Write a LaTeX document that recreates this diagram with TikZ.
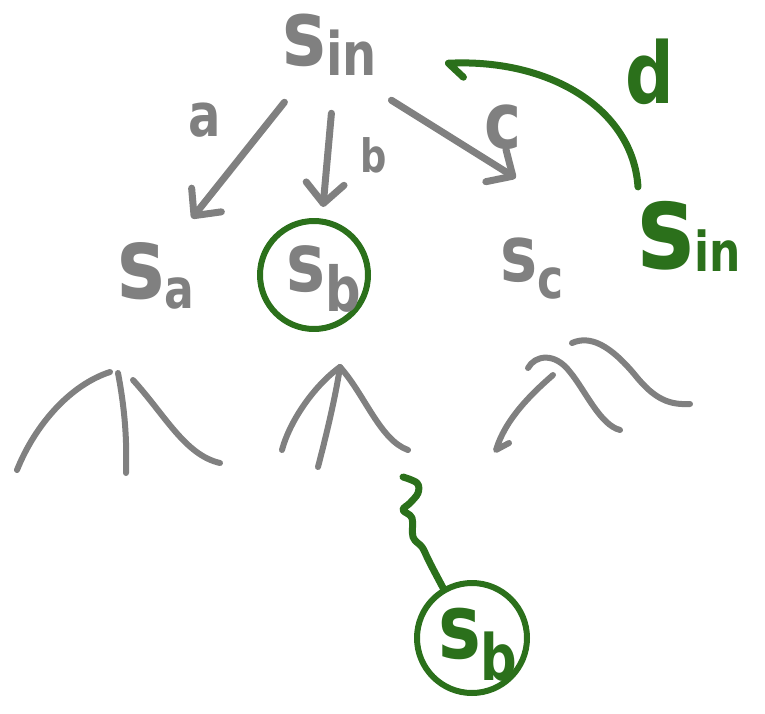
\documentclass[tikz,border=0pt]{standalone}
\usepackage{fontspec}
\newfontfamily\hand[FakeStretch=0.8]{DejaVu Sans}
\usetikzlibrary{arrows.meta,calc}
\definecolor{pen}{RGB}{128,128,128}
\definecolor{ink}{RGB}{43,112,27}
\newcommand\slab[5]{{\fontsize{#1}{#1}\selectfont #2}\raisebox{-#4}{\fontsize{#3}{#3}\selectfont #5}}
\tikzset{
  gtext/.style={text=pen, inner sep=0pt, font=\hand\bfseries},
  ktext/.style={text=ink, inner sep=0pt, font=\hand\bfseries},
  ring/.style={circle, draw=ink, line width=6pt, inner sep=0pt, minimum size=#1},
  arr/.style={draw=pen, line width=7pt, -{Straight Barb[round, length=20pt, width=38pt]}},
  greenline/.style={draw=ink, line width=7pt},
  tree/.style={draw=pen, line width=6pt}
}
\begin{document}
\begin{tikzpicture}[x=1pt, y=-1pt, line cap=round, line join=round]
\useasboundingbox (0,0) rectangle (765,714);
% state nodes
\node[gtext, anchor=base west, inner sep=2pt] (sin) at (280,66) {\slab{92}{s}{60}{10pt}{in}};
\node[gtext, anchor=base west] (sa) at (117,298) {\slab{100}{s}{55}{10pt}{a}};
\node[gtext, anchor=base west] (sc) at (500,281) {\slab{78}{s}{55}{17pt}{c}};
\node[ktext, anchor=base west] (gsin) at (637,268) {\slab{120}{s}{55}{3pt}{in}};
\node[ring=108pt, text=pen, font=\hand\bfseries] (sb) at (314,275)
  {\makebox[0pt][l]{\hspace{-28pt}\raisebox{-16pt}[0pt][0pt]{\slab{82}{s}{62}{20pt}{b}}}};
\node[ring=110pt, text=ink, font=\hand\bfseries] (sb2) at (472,638)
  {\makebox[0pt][l]{\hspace{-34pt}\raisebox{-20pt}[0pt][0pt]{\slab{90}{s}{64}{22pt}{b}}}};
% action arrows
\draw[arr] ($(sin.center)+(-45,57)$) -- ($(sa.center)+(36,-57)$);
\draw[arr] ($(sin.center)+(2,68)$) -- ($(sb.center)+(9,-68)$);
\draw[arr] ($(sin.center)+(62,55)$) -- ($(sc.center)+(-16,-90)$);
\node[gtext, font=\hand\bfseries\fontsize{60}{60}\selectfont] (la) at (205,120) {a};
\node[gtext, font=\hand\bfseries\fontsize{46}{46}\selectfont] (lb) at (374,155) {b};
\node[gtext, font=\hand\bfseries\fontsize{78}{78}\selectfont] (lc) at (503,127) {c};
% green d arc
\draw[greenline] ($(gsin.center)+(-51,-49)$) .. controls +(-5,-77) and +(103,-5) .. ($(sin.center)+(119,18)$) -- ++(15,14);
\node[ktext, font=\hand\bfseries\fontsize{85}{85}\selectfont] (ld) at (650,72) {d};
% subtrees
\draw[tree] (17,470) .. controls (35,425) and (70,385) .. (110,372);
\draw[tree] (118,373) .. controls (125,410) and (127,440) .. (126,473);
\draw[tree] (133,380) .. controls (165,415) and (185,455) .. (220,463);
\draw[tree] (282,450) .. controls (290,420) and (315,385) .. (340,367);
\draw[tree] (340,367) .. controls (335,400) and (325,440) .. (318,467);
\draw[tree] (340,367) .. controls (365,395) and (380,440) .. (408,450);
\draw[tree] (509,443) -- (496,450) .. controls (505,420) and (530,395) .. (553,375);
\draw[tree] (528,368) .. controls (535,355) and (555,352) .. (570,372) .. controls (585,390) and (600,425) .. (620,430);
\draw[tree] (572,343) .. controls (590,335) and (610,345) .. (635,375) .. controls (655,400) and (670,405) .. (690,404);
% squiggle to sampled state
\coordinate (sq) at (403,477);
\draw[greenline] plot[smooth, tension=0.6] coordinates {(sq) (417,483) (418,493) (410,503) (403,510) (412,518) (413,537) (422,547) (427,557) (432,567) (sb2.120)};
\end{tikzpicture}
\end{document}
